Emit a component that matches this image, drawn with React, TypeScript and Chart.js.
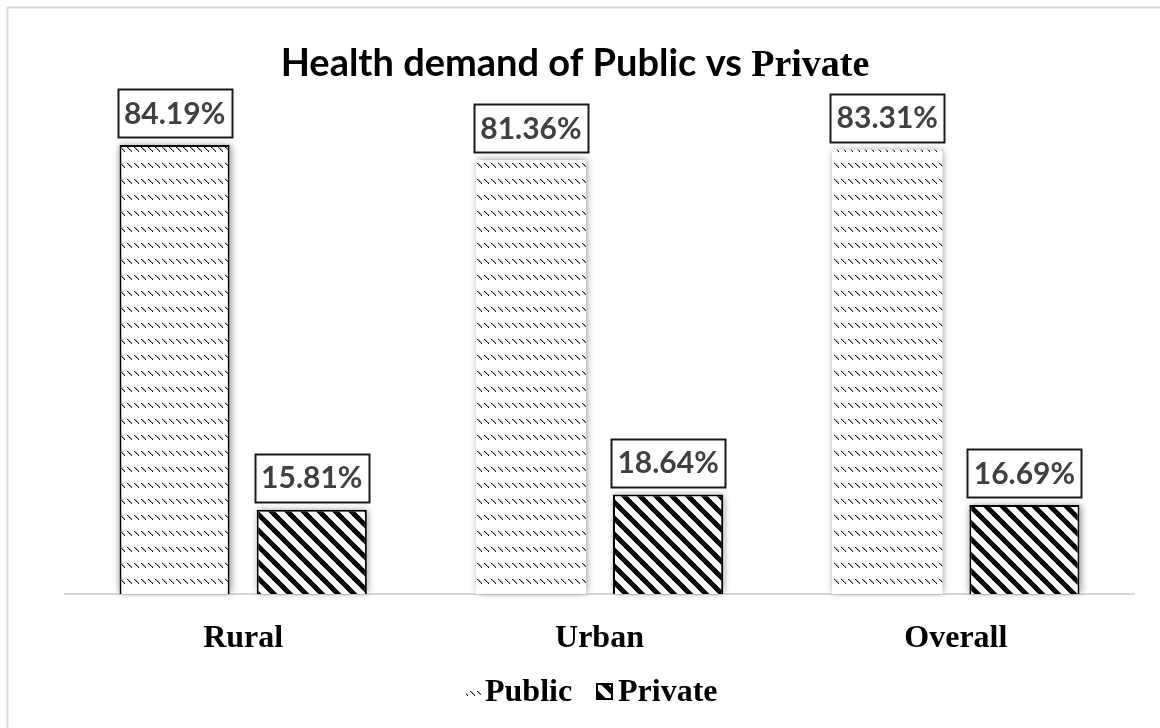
import React, { useEffect, useRef } from "react";
import { Chart, registerables } from "chart.js";

Chart.register(...registerables);

const categories = ["Rural", "Urban", "Overall"];
const publicValues = [84.19, 81.36, 83.31];
const privateValues = [15.81, 18.64, 16.69];
const seriesNames = ["Public", "Private"];
const titleMain = "Health demand of Public vs ";
const titleTail = "Private";

const SANS = "Lato, 'Open Sans', sans-serif";
const SERIF = "'Liberation Serif', 'Times New Roman', serif";

function makePublicPattern(): CanvasPattern | string {
  const c = document.createElement("canvas");
  c.width = 7;
  c.height = 16;
  const g = c.getContext("2d");
  if (!g) return "#fff";
  g.fillStyle = "#fff";
  g.fillRect(0, 0, 7, 16);
  const cols = ["#111", "#444", "#111", "#444", "#111"];
  for (let i = 0; i < 5; i++) {
    g.fillStyle = cols[i];
    g.fillRect(1 + i, 3 + i, 1, 1);
  }
  g.fillStyle = "#999";
  for (let i = 0; i < 4; i++) {
    g.fillRect(2 + i, 3 + i, 1, 1);
  }
  const p = g.createPattern(c, "repeat");
  return p || "#fff";
}

function makePrivatePattern(): CanvasPattern | string {
  const s = 16;
  const c = document.createElement("canvas");
  c.width = s;
  c.height = s;
  const g = c.getContext("2d");
  if (!g) return "#000";
  g.fillStyle = "#fff";
  g.fillRect(0, 0, s, s);
  g.strokeStyle = "#000";
  g.lineWidth = 5;
  for (let k = -1; k <= 1; k++) {
    g.beginPath();
    g.moveTo(k * s - 2, -2);
    g.lineTo(k * s + s + 2, s + 2);
    g.stroke();
  }
  const p = g.createPattern(c, "repeat");
  return p || "#000";
}

export default function App() {
  const ref = useRef<HTMLCanvasElement | null>(null);

  useEffect(() => {
    const canvas = ref.current;
    if (!canvas) return;
    const pubPat = makePublicPattern();
    const privPat = makePrivatePattern();

    const decorPlugin = {
      id: "decor",
      beforeDraw(chart: any) {
        const ctx = chart.ctx;
        ctx.save();
        ctx.fillStyle = "#fff";
        ctx.fillRect(0, 0, chart.width, chart.height);
        ctx.strokeStyle = "#d9d9d9";
        ctx.lineWidth = 2;
        ctx.beginPath();
        ctx.moveTo(7.5, chart.height + 5);
        ctx.lineTo(7.5, 7.5);
        ctx.lineTo(chart.width + 5, 7.5);
        ctx.stroke();
        ctx.restore();
      },
      beforeDatasetsDraw(chart: any) {
        const ctx = chart.ctx;
        ctx.save();
        ctx.shadowColor = "rgba(0,0,0,0.45)";
        ctx.shadowBlur = 7;
        ctx.shadowOffsetX = 1;
        ctx.shadowOffsetY = 0;
        ctx.fillStyle = "#fff";
        chart.data.datasets.forEach((_: any, di: number) => {
          const meta = chart.getDatasetMeta(di);
          meta.data.forEach((bar: any) => {
            const w = bar.width;
            ctx.fillRect(bar.x - w / 2, bar.y, w, bar.base - bar.y - 1);
          });
        });
        ctx.restore();
      },
      afterDatasetsDraw(chart: any) {
        const ctx = chart.ctx;
        ctx.save();
        const boxW = 114;
        const boxH = 48;
        const gap = 8;
        chart.data.datasets.forEach((ds: any, di: number) => {
          const meta = chart.getDatasetMeta(di);
          meta.data.forEach((bar: any, i: number) => {
            const v = ds.data[i];
            const cx = bar.x;
            const bottom = bar.y - gap;
            const top = bottom - boxH;
            ctx.fillStyle = "#fff";
            ctx.fillRect(cx - boxW / 2, top, boxW, boxH);
            ctx.strokeStyle = "#1a1a1a";
            ctx.lineWidth = 2;
            ctx.strokeRect(Math.round(cx - boxW / 2) + 0.5, Math.round(top) + 0.5, boxW, boxH);
            ctx.fillStyle = "#404040";
            ctx.font = `bold 30px ${SANS}`;
            ctx.textAlign = "center";
            ctx.textBaseline = "middle";
            ctx.fillText(v.toFixed(2) + "%", cx, top + boxH / 2 + 1);
          });
        });
        ctx.restore();
      },
      afterDraw(chart: any) {
        const ctx = chart.ctx;
        ctx.save();
        // Title
        ctx.fillStyle = "#000";
        ctx.textBaseline = "alphabetic";
        ctx.textAlign = "left";
        const f1 = `bold 38px ${SANS}`;
        const f2 = `bold 38px ${SERIF}`;
        ctx.font = f1;
        const w1 = ctx.measureText(titleMain).width;
        ctx.font = f2;
        const w2 = ctx.measureText(titleTail).width;
        const x0 = 575 - (w1 + w2) / 2;
        ctx.font = f1;
        ctx.fillText(titleMain, x0, 76);
        ctx.font = f2;
        ctx.fillText(titleTail, x0 + w1, 76);

        // Legend
        ctx.font = `bold 32px ${SERIF}`;
        ctx.textBaseline = "alphabetic";
        ctx.fillStyle = pubPat as any;
        ctx.fillRect(466, 683, 15, 15);
        ctx.fillStyle = "#000";
        ctx.fillText(seriesNames[0], 485, 701);
        ctx.fillStyle = privPat as any;
        ctx.fillRect(597, 684, 15, 15);
        ctx.strokeStyle = "#000";
        ctx.lineWidth = 2;
        ctx.strokeRect(597, 684, 15, 15);
        ctx.fillStyle = "#000";
        ctx.fillText(seriesNames[1], 618, 701);
        ctx.restore();
      },
    };

    const chart = new Chart(canvas, {
      type: "bar",
      data: {
        labels: categories,
        datasets: [
          {
            label: seriesNames[0],
            data: publicValues,
            backgroundColor: pubPat as any,
            borderColor: ["#000", "#cfcfcf", "#cfcfcf"],
            borderWidth: [2, 0, 0] as any,
          },
          {
            label: seriesNames[1],
            data: privateValues,
            backgroundColor: privPat as any,
            borderColor: "#000",
            borderWidth: 2,
          },
        ],
      },
      options: {
        responsive: false,
        devicePixelRatio: 1,
        animation: false,
        layout: { padding: { left: 65, right: 26, top: 114, bottom: 34 } },
        datasets: {
          bar: { categoryPercentage: 0.77, barPercentage: 0.803 },
        },
        plugins: {
          legend: { display: false },
          title: { display: false },
          tooltip: { enabled: false },
        },
        scales: {
          y: { display: false, min: 0, max: 90 },
          x: {
            grid: { display: false, drawTicks: false },
            border: { display: true, color: "#d9d9d9", width: 2 },
            ticks: {
              color: "#000",
              padding: 26,
              font: { family: SERIF, weight: "bold", size: 32 },
            },
            afterFit: (scale: any) => {
              scale.height = 100;
            },
          },
        },
      },
      plugins: [decorPlugin],
    });
    return () => chart.destroy();
  }, []);

  return (
    <div style={{ position: "absolute", left: 0, top: 0, width: 1160, height: 728, overflow: "hidden" }}>
      <canvas ref={ref} width={1160} height={728} style={{ display: "block", width: 1160, height: 728 }} />
    </div>
  );
}
